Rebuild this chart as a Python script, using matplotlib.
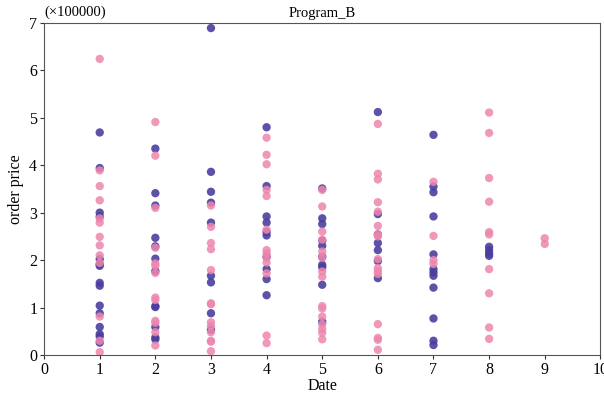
"""Scatter of order price by date for Program_B."""

import matplotlib.pyplot as plt

plt.rcParams["font.family"] = ["Liberation Serif", "DejaVu Serif"]

# order prices in units of 100000, grouped by date
BLUE_DATE = (
    [1] * 15 + [2] * 12 + [3] * 9 + [4] * 10 + [5] * 10 + [6] * 7 + [7] * 12 + [8] * 4
)
BLUE_PRICE = [
    4.69, 3.94, 3.00, 2.92, 2.02, 1.91, 1.88, 1.52, 1.46, 1.04, 0.88, 0.59, 0.44, 0.39, 0.26,
    4.35, 3.41, 3.15, 2.47, 2.29, 2.03, 1.77, 1.03, 1.01, 0.59, 0.37, 0.33,
    6.89, 3.86, 3.44, 3.21, 2.79, 1.67, 1.53, 0.88, 0.53,
    4.80, 3.56, 2.92, 2.79, 2.59, 2.52, 2.07, 1.81, 1.60, 1.26,
    3.51, 2.88, 2.76, 2.41, 2.30, 2.07, 1.90, 1.85, 1.48, 0.70,
    5.12, 2.97, 2.54, 2.36, 2.21, 1.98, 1.62,
    4.64, 3.55, 3.43, 2.92, 2.12, 1.81, 1.74, 1.67, 1.42, 0.77, 0.30, 0.21,
    2.28, 2.21, 2.14, 2.09,
]
PINK_DATE = (
    [1] * 13 + [2] * 13 + [3] * 13 + [4] * 13 + [5] * 15 + [6] * 16 + [7] * 4 + [8] * 10 + [9] * 2
)
PINK_PRICE = [
    6.24, 3.89, 3.56, 3.26, 2.88, 2.79, 2.49, 2.31, 2.10, 1.94, 0.81, 0.30, 0.06,
    4.91, 4.20, 3.10, 2.26, 1.93, 1.88, 1.73, 1.21, 1.16, 0.72, 0.68, 0.48, 0.20,
    3.15, 2.70, 2.36, 2.23, 1.79, 1.09, 1.07, 0.69, 0.61, 0.48, 0.30, 0.28, 0.08,
    4.58, 4.22, 4.02, 3.48, 3.35, 2.64, 2.21, 2.14, 2.05, 1.95, 1.72, 0.41, 0.25,
    3.48, 3.13, 2.60, 2.43, 2.18, 2.05, 1.76, 1.65, 1.03, 0.98, 0.81, 0.65, 0.47, 0.33, 0.55,
    4.87, 3.82, 3.70, 3.22, 3.02, 2.72, 2.54, 2.02, 1.83, 1.76, 1.71, 0.65, 0.36, 0.32, 0.11, 2.50,
    3.65, 2.51, 2.00, 1.92,
    5.11, 4.68, 3.73, 3.23, 2.59, 2.54, 1.81, 1.30, 0.58, 0.34,
    2.46, 2.34,
]

BLUE = "#4a3f9f"
PINK = "#ee86ae"


def main() -> int:
    fig = plt.figure(figsize=(6.04, 3.94), dpi=100)
    ax = fig.add_axes([0.073, 0.099, 0.921, 0.843])
    ax.scatter(BLUE_DATE, BLUE_PRICE, s=36, color=BLUE, alpha=0.9, edgecolors="none")
    ax.scatter(PINK_DATE, PINK_PRICE, s=36, color=PINK, alpha=0.85, edgecolors="none")
    ax.set_xlim(0, 10)
    ax.set_ylim(0, 7)
    ax.set_xticks(range(11))
    ax.set_yticks(range(8))
    ax.tick_params(labelsize=11.5, length=3, pad=2, color="#333333")
    for spine in ax.spines.values():
        spine.set_color("#555555")
    ax.set_xlabel("Date", fontsize=11.5, labelpad=0)
    ax.set_ylabel("order price", fontsize=11.5, labelpad=4)
    ax.set_title("Program_B", fontsize=10.5, pad=4)
    ax.text(0.0, 1.012, "(×100000)", transform=ax.transAxes, fontsize=10.5,
            ha="left", va="bottom")
    fig.savefig("out.png", dpi=100)
    plt.close(fig)
    return 0


if __name__ == "__main__":
    raise SystemExit(main())
